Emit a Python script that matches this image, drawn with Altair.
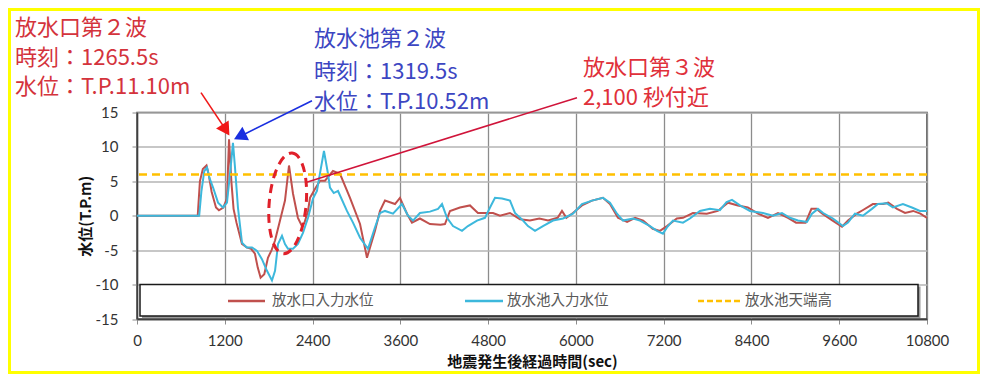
import altair as alt
import pandas as pd

# ---------------- data ----------------
RED_T = [0, 830, 860, 900, 950, 980, 1020, 1080, 1120, 1180, 1230, 1258, 1290, 1320, 1360,
         1435, 1500, 1560, 1612, 1650, 1690, 1740, 1790, 1840, 1887, 1955, 2023, 2078, 2133,
         2200, 2255, 2290, 2338, 2365, 2433, 2502, 2570, 2679, 2775, 2912, 3049, 3144, 3253,
         3322, 3390, 3527, 3595, 3691, 3759, 3868, 4005, 4150, 4210, 4279, 4415, 4552, 4661,
         4867, 4962, 5099, 5236, 5372, 5500, 5620, 5750, 5810, 5870, 5960, 6083, 6220, 6370,
         6466, 6575, 6700, 6810, 6920, 7050, 7149, 7245, 7380, 7464, 7600, 7790, 7940, 8079,
         8215, 8350, 8490, 8626, 8763, 8900, 9010, 9140, 9220, 9290, 9370, 9510, 9638, 9720,
         9840, 9920, 10060, 10200, 10270, 10390, 10500, 10610, 10710, 10800]
RED_V = [0, 0, 5.0, 6.8, 7.3, 6.0, 3.5, 1.2, 0.8, 1.2, 2.5, 11.1, 5.0, 1.0, -1.0,
         -4.1, -4.6, -4.8, -5.5, -7.5, -9.0, -8.5, -6.1, -5.0, -3.6, -0.7, 2.2, 7.3, 3.2,
         -0.3, -1.5, -1.0, 0.7, 2.6, 3.9, 5.1, 5.1, 6.5, 6.1, 2.6, -1.2, -6.1, -2.2,
         0.7, 2.2, 1.7, 2.6, 0.3, -1.0, -0.4, -1.2, -1.3, -1.2, 0.7, 1.2, 1.5, 0.4,
         0.4, 0.0, 0.4, -0.5, -0.7, -0.4, -0.7, -0.3, 0.7, -0.3, 0.4, 1.5, 2.2, 2.6,
         1.7, -0.3, -0.9, -0.3, -0.7, -1.9, -2.2, -1.5, -0.4, -0.3, 0.4, 0.3, 0.7, 1.9,
         1.5, 1.2, 0.3, -0.3, 0.4, -0.3, -1.0, -1.0, 1.0, 1.0, 0.3, -0.7, -1.6, -0.7,
         0.3, 0.8, 1.7, 1.7, 1.9, 1.0, 0.4, 0.7, 0.3, -0.3]

CYAN_T = [0, 850, 880, 920, 957, 990, 1040, 1108, 1176, 1230, 1280, 1312, 1340, 1380, 1435,
          1500, 1572, 1640, 1708, 1777, 1845, 1887, 1928, 1982, 2023, 2064, 2133, 2200, 2269,
          2338, 2406, 2460, 2502, 2556, 2611, 2638, 2690, 2748, 2870, 2953, 3049, 3158, 3253,
          3322, 3390, 3500, 3622, 3705, 3773, 3868, 4005, 4115, 4170, 4238, 4320, 4443, 4524,
          4648, 4757, 4826, 4894, 4990, 5099, 5167, 5277, 5345, 5441, 5550, 5687, 5824, 5960,
          6083, 6220, 6370, 6466, 6562, 6644, 6781, 6876, 7013, 7108, 7190, 7245, 7327, 7464,
          7559, 7696, 7833, 7969, 8060, 8134, 8243, 8380, 8557, 8694, 8817, 8926, 9036, 9159,
          9227, 9309, 9380, 9514, 9651, 9720, 9815, 9924, 10047, 10129, 10252, 10334, 10471,
          10594, 10703, 10800]
CYAN_V = [0, 0, 3.5, 6.5, 7.0, 5.5, 4.1, 1.9, 1.2, 1.9, 7.0, 10.6, 7.0, 1.2, -3.9,
          -4.6, -4.6, -5.1, -6.3, -8.0, -9.4, -8.0, -4.1, -2.9, -4.1, -4.8, -4.8, -4.1, -2.5,
          -0.3, 2.5, 3.6, 6.2, 9.4, 6.1, 4.1, 3.3, 3.6, 0.7, -1.0, -3.2, -4.8, -1.7,
          0.4, 0.7, 0.3, 1.7, 0.0, -0.7, 0.4, 0.6, 1.0, 1.7, -0.3, -1.5, -2.2, -1.5,
          -0.7, -0.3, 1.2, 2.6, 2.5, 2.2, 0.4, -0.7, -1.5, -2.2, -1.5, -0.7, -0.4, 0.3,
          1.7, 2.2, 2.6, 1.9, 0.3, -0.7, -0.4, -0.7, -1.5, -2.2, -2.6, -1.7, -0.7, -1.0,
          -0.4, 0.7, 1.0, 0.8, 2.0, 2.3, 1.5, 0.7, 0.4, 0.0, 0.4, -0.3, -0.7, -0.9,
          0.3, 1.0, 0.4, -0.4, -1.5, -1.0, 0.3, 0.0, 1.0, 1.7, 1.8, 1.2, 1.7,
          1.2, 0.7, 0.7]

CREST_LEVEL = [6.0]
X_TICKS = [0, 1200, 2400, 3600, 4800, 6000, 7200, 8400, 9600, 10800]
Y_TICKS = [-15, -10, -5, 0, 5, 10, 15]
SERIES = ["放水口入力水位", "放水池入力水位", "放水池天端高"]
X_TITLE = "地震発生後経過時間(sec)"
Y_TITLE = "水位(T.P.m)"
ANN_RED2 = ["放水口第２波", "時刻：1265.5s", "水位：T.P.11.10m"]
ANN_BLUE2 = ["放水池第２波", "時刻：1319.5s", "水位：T.P.10.52m"]
ANN_RED3 = ["放水口第３波", "2,100 秒付近"]

# annotation anchor points in data units (time s, level m)
RED_ARROW_T = [875, 1199]
RED_ARROW_V = [17.88, 12.73]
BLUE_ARROW_T = [2392, 1433]
BLUE_ARROW_V = [16.72, 11.67]
WAVE3_LINE_T = [2297, 6015]
WAVE3_LINE_V = [4.8, 17.15]
WAVE3_CIRCLE_T = [2060]
WAVE3_CIRCLE_V = [1.8]

# ---------------- styling ----------------
RED = "#C0504D"
CYAN = "#3DB8DC"
YELLOW = "#FFC000"
JP = "Noto Sans CJK JP"
W, H = 790, 206.5
PAD = {"left": 129, "top": 104.5, "right": 53, "bottom": 55}
LABEL_EXPR = "'' + datum.value"

df_red = pd.DataFrame({"t": RED_T, "v": RED_V})
df_cyan = pd.DataFrame({"t": CYAN_T, "v": CYAN_V})

xscale = alt.Scale(domain=[0, 10800], nice=False, zero=False)
yscale = alt.Scale(domain=[-15, 15], nice=False, zero=False)

x_axis = alt.Axis(
    values=X_TICKS, labelExpr=LABEL_EXPR, grid=True, gridColor="#8C8C8C", gridWidth=1.3,
    tickColor="#8C8C8C", tickSize=5, labelFont="Lato", labelFontSize=15,
    labelColor="#333333", labelPadding=9, labelFlush=False, labelOverlap=False,
    domainColor="#404040", domainWidth=1.5,
    title=X_TITLE, titleFont=JP, titleFontSize=15, titleFontWeight="bold",
    titleColor="#111111", titleX=W / 2, titleY=42, titleBaseline="middle")
y_axis = alt.Axis(
    values=Y_TICKS, labelExpr=LABEL_EXPR, grid=True, gridColor="#B5B5B5", gridWidth=1.3,
    tickColor="#8C8C8C", tickSize=5, labelFont="Lato", labelFontSize=15,
    labelColor="#333333", labelPadding=14, labelFlush=False, labelOverlap=False,
    labelBound=False, domainColor="#404040", domainWidth=1.5,
    title=Y_TITLE, titleFont=JP, titleFontSize=15, titleFontWeight="bold",
    titleColor="#111111", titleX=-52, titleY=H / 2, titleAngle=270,
    titleAlign="center", titleBaseline="middle")
xv = alt.X("t:Q", scale=xscale, axis=x_axis)
yv = alt.Y("v:Q", scale=yscale, axis=y_axis)

layers = []

red_line = alt.Chart(df_red).mark_line(color=RED, strokeWidth=2, clip=True).encode(x=xv, y=yv)
cyan_line = alt.Chart(df_cyan).mark_line(color=CYAN, strokeWidth=2, clip=True).encode(x=xv, y=yv)
crest = alt.Chart(pd.DataFrame({"v": CREST_LEVEL})).mark_rule(
    color=YELLOW, strokeWidth=2.5, strokeDash=[8, 5]).encode(y=yv)
layers += [red_line, cyan_line, crest]

# ---------- legend box (drawn inside the plot, as in the reference) ----------
one = pd.DataFrame({"a": [0]})
layers.append(alt.Chart(one).mark_rect(color="#9A9A9A").encode(
    x=alt.value(5), x2=alt.value(783.5), y=alt.value(174), y2=alt.value(205.5)))
layers.append(alt.Chart(one).mark_rect(fill="white", stroke="#1A1A1A", strokeWidth=1.5).encode(
    x=alt.value(3), x2=alt.value(781), y=alt.value(172), y2=alt.value(203.5)))
leg_y = 188.5
leg_sym = [(91, 128), (328, 366), (561, 605)]
leg_col = [RED, CYAN, YELLOW]
leg_txt_x = [135, 370, 608]
for i, lab in enumerate(SERIES):
    kw = dict(color=leg_col[i], strokeWidth=2.5)
    if i == 2:
        kw["strokeDash"] = [6, 3]
    layers.append(alt.Chart(one).mark_rule(**kw).encode(
        x=alt.value(leg_sym[i][0]), x2=alt.value(leg_sym[i][1]), y=alt.value(leg_y)))
    layers.append(alt.Chart(one).mark_text(
        align="left", baseline="middle", font=JP, fontSize=14.5, color="#595959").encode(
        x=alt.value(leg_txt_x[i]), y=alt.value(leg_y), text=alt.value(lab)))

# ---------- annotations ----------
arrows = pd.DataFrame({
    "t": RED_ARROW_T + BLUE_ARROW_T + WAVE3_LINE_T,
    "v": RED_ARROW_V + BLUE_ARROW_V + WAVE3_LINE_V,
    "id": ["r"] * 2 + ["b"] * 2 + ["w"] * 2,
    "o": [0, 1] * 3,
})
arrow_cols = {"r": "#F01818", "b": "#1A2FE0", "w": "#D0143A"}
for k, c in arrow_cols.items():
    layers.append(alt.Chart(arrows[arrows.id == k]).mark_line(color=c, strokeWidth=1.6).encode(
        x=xv, y=yv, order="o:Q"))
layers.append(alt.Chart(pd.DataFrame({"t": [RED_ARROW_T[1]], "v": [RED_ARROW_V[1]]})).mark_point(
    shape="triangle", filled=True, size=225, angle=147, color="#F01818", opacity=1).encode(x=xv, y=yv))
layers.append(alt.Chart(pd.DataFrame({"t": [BLUE_ARROW_T[1]], "v": [BLUE_ARROW_V[1]]})).mark_point(
    shape="triangle", filled=True, size=225, angle=244, color="#1A2FE0", opacity=1).encode(x=xv, y=yv))

ellipse = ("M0,-1C0.202,-1,0.366,-0.552,0.366,0C0.366,0.552,0.202,1,0,1"
           "C-0.202,1,-0.366,0.552,-0.366,0C-0.366,-0.552,-0.202,-1,0,-1Z")
layers.append(alt.Chart(pd.DataFrame({"t": WAVE3_CIRCLE_T, "v": WAVE3_CIRCLE_V})).mark_point(
    shape=ellipse, size=10201, angle=5, filled=False, color="#E0202A", strokeWidth=3,
    strokeDash=[9, 6], opacity=1).encode(x=xv, y=yv))

def text_block(lines, x, ys, color):
    out = []
    for line, yy in zip(lines, ys):
        out.append(alt.Chart(one).mark_text(
            align="left", baseline="middle", font=JP, fontSize=22, color=color).encode(
            x=alt.value(x), y=alt.value(yy), text=alt.value(line)))
    return out

layers += text_block(ANN_RED2, -122, [-84.5, -55, -25.5], "#D4333C")
layers += text_block(ANN_BLUE2, 177, [-74, -40.5, -11], "#3C46C2")
layers += text_block(ANN_RED3, 446, [-45, -15], "#E0303A")

# ---------- yellow outer frame ----------
layers.append(alt.Chart(one).mark_rect(fillOpacity=0, stroke="#FFFF00", strokeWidth=3).encode(
    x=alt.value(-127.5), x2=alt.value(841.5), y=alt.value(-103), y2=alt.value(260)))

chart = alt.layer(*layers).properties(
    width=W, height=H, padding=PAD, autosize=alt.AutoSizeParams(type="none"),
    background="white"
).configure_view(stroke="#404040", strokeWidth=1.5
).configure_axis(labelOverlap=False, labelFlush=False)

chart.save("out.html", embed_options={"renderer": "svg", "actions": False})
